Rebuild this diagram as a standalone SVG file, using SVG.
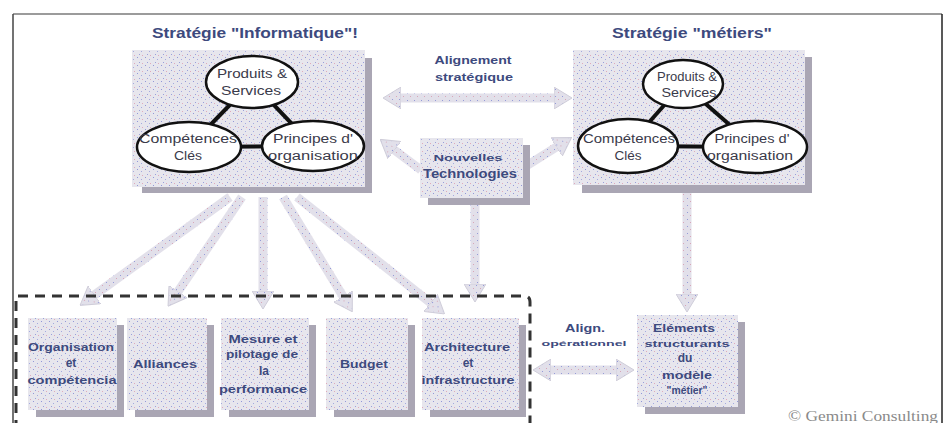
<svg xmlns="http://www.w3.org/2000/svg" width="947" height="423" viewBox="0 0 947 423">
<style>
.t{font-family:"Liberation Sans",Arial,sans-serif;font-weight:bold;fill:#3d4a7e;text-anchor:middle}
.e{font-family:"Liberation Sans",Arial,sans-serif;fill:#3a3a4a;text-anchor:middle;font-size:12px}
.box{fill:url(#dots)}
.sh{fill:#aaa6b4}
.ov{fill:#fff;stroke:#111;stroke-width:2.5}
.lk{stroke:#111;stroke-width:4}
.ar{stroke:url(#adots);stroke-width:9;fill:none;marker-end:url(#ah)}
.dar{stroke:url(#adots);stroke-width:9;fill:none;marker-end:url(#ah);marker-start:url(#ah)}
</style>
<defs>
<pattern id="dots" width="8" height="8" patternUnits="userSpaceOnUse">
<rect width="8" height="8" fill="#e7e6ed"/>
<rect x="1" y="1" width="1" height="1" fill="#9298d8"/>
<rect x="5" y="3" width="1" height="1" fill="#a4aadf"/>
<rect x="3" y="6" width="1" height="1" fill="#9aa0da"/>
<rect x="6" y="7" width="1" height="1" fill="#e0aabb"/>
</pattern>
<pattern id="adots" width="7" height="7" patternUnits="userSpaceOnUse">
<rect width="7" height="7" fill="#e2e0ea"/>
<rect x="1" y="2" width="1" height="1" fill="#959bd8"/>
<rect x="4" y="5" width="1" height="1" fill="#d8a6b8"/>
</pattern>
<marker id="ah" viewBox="0 0 18 22" refX="2" refY="11" markerWidth="18" markerHeight="22" markerUnits="userSpaceOnUse" orient="auto-start-reverse">
<path d="M0,0 L18,11 L0,22 z" fill="url(#adots)" stroke="#cfcdd9" stroke-width="1"/>
</marker>
</defs>
<rect width="947" height="423" fill="#fff"/>
<g id="frame">
<line x1="13" y1="14" x2="942" y2="14" stroke="#7a7a7a" stroke-width="1.5"/>
<line x1="13" y1="14" x2="13" y2="423" stroke="#444" stroke-width="1.5"/>
<line x1="942" y1="14" x2="942" y2="423" stroke="#222" stroke-width="1.5"/>
</g>
<g id="connectors">
<line class="dar" x1="399" y1="98" x2="556" y2="98"/>
<line class="ar" x1="421" y1="170" x2="393" y2="149"/>
<line class="ar" x1="523" y1="168" x2="558" y2="146"/>
<line class="ar" x1="475" y1="205" x2="475" y2="286"/>
<line class="ar" x1="687" y1="192" x2="687" y2="296"/>
<line class="dar" x1="549" y1="370" x2="618" y2="370"/>
<line class="ar" x1="230" y1="197" x2="93" y2="296"/>
<line class="ar" x1="242" y1="197" x2="177" y2="293"/>
<line class="ar" x1="263" y1="197" x2="263" y2="293"/>
<line class="ar" x1="283" y1="197" x2="344" y2="298"/>
<line class="ar" x1="297" y1="197" x2="432" y2="304"/>
</g>
<g id="dashed-group">
<path d="M16,430 L16,296 L524,296 Q530,296 530,302 L530,430" fill="none" stroke="#333" stroke-width="3" stroke-dasharray="10 7"/>
</g>
<g id="strat-info">
<text class="t" x="255" y="38" font-size="14" textLength="206" lengthAdjust="spacingAndGlyphs">Stratégie "Informatique"!</text>
<rect class="sh" x="365" y="58" width="7" height="135"/>
<rect class="sh" x="142" y="187" width="230" height="6"/>
<rect class="box" x="132" y="50" width="233" height="137"/>
<line class="lk" x1="252" y1="82" x2="189" y2="147"/>
<line class="lk" x1="252" y1="82" x2="313" y2="146"/>
<line class="lk" x1="189" y1="147" x2="313" y2="146"/>
<ellipse class="ov" cx="252" cy="82" rx="46" ry="26"/>
<ellipse class="ov" cx="189" cy="147" rx="52" ry="25"/>
<ellipse class="ov" cx="313" cy="146" rx="51" ry="25"/>
<text class="e" x="252" y="78" textLength="70" lengthAdjust="spacingAndGlyphs">Produits &amp;</text>
<text class="e" x="251" y="95" textLength="60" lengthAdjust="spacingAndGlyphs">Services</text>
<text class="e" x="188" y="143" textLength="98" lengthAdjust="spacingAndGlyphs">Compétences</text>
<text class="e" x="188" y="160" textLength="28" lengthAdjust="spacingAndGlyphs">Clés</text>
<text class="e" x="313" y="143" textLength="80" lengthAdjust="spacingAndGlyphs">Principes d'</text>
<text class="e" x="313" y="160" textLength="90" lengthAdjust="spacingAndGlyphs">organisation</text>
</g>
<g id="strat-metiers">
<text class="t" x="692" y="38" font-size="14" textLength="160" lengthAdjust="spacingAndGlyphs">Stratégie "métiers"</text>
<rect class="sh" x="805" y="57" width="7" height="136"/>
<rect class="sh" x="582" y="185" width="230" height="8"/>
<rect class="box" x="573" y="50" width="232" height="135"/>
<line class="lk" x1="683" y1="84" x2="628" y2="146"/>
<line class="lk" x1="683" y1="84" x2="755" y2="147"/>
<line class="lk" x1="628" y1="146" x2="755" y2="147"/>
<ellipse class="ov" cx="683" cy="84" rx="40" ry="24"/>
<ellipse class="ov" cx="628" cy="146" rx="50" ry="27"/>
<ellipse class="ov" cx="755" cy="147" rx="52" ry="26"/>
<text class="e" x="687" y="81" textLength="60" lengthAdjust="spacingAndGlyphs">Produits &amp;</text>
<text class="e" x="689" y="97" textLength="55" lengthAdjust="spacingAndGlyphs">Services</text>
<text class="e" x="629" y="143" textLength="92" lengthAdjust="spacingAndGlyphs">Compétences</text>
<text class="e" x="628" y="160" textLength="27" lengthAdjust="spacingAndGlyphs">Clés</text>
<text class="e" x="752" y="143" textLength="75" lengthAdjust="spacingAndGlyphs">Principes d'</text>
<text class="e" x="750" y="160" textLength="86" lengthAdjust="spacingAndGlyphs">organisation</text>
</g>
<g id="align-strat">
<text class="t" x="473" y="64" font-size="11" textLength="77" lengthAdjust="spacingAndGlyphs">Alignement</text>
<text class="t" x="474" y="81" font-size="11" textLength="78" lengthAdjust="spacingAndGlyphs">stratégique</text>
</g>
<g id="nouvelles-tech">
<rect class="sh" x="523" y="145" width="7" height="60"/>
<rect class="sh" x="428" y="198" width="102" height="7"/>
<rect class="box" x="420" y="138" width="103" height="60"/>
<text class="t" x="468" y="161" font-size="9" textLength="69" lengthAdjust="spacingAndGlyphs">Nouvelles</text>
<text class="t" x="470" y="178" font-size="13" textLength="94" lengthAdjust="spacingAndGlyphs">Technologies</text>
</g>
<g id="organisation">
<rect class="sh" x="117" y="325" width="7" height="92"/>
<rect class="sh" x="36" y="410" width="88" height="7"/>
<rect class="box" x="28" y="318" width="89" height="92"/>
<text class="t" x="71" y="351" font-size="11" textLength="86" lengthAdjust="spacingAndGlyphs">Organisation</text>
<text class="t" x="71" y="367" font-size="12">et</text>
<text class="t" x="72" y="384" font-size="11" textLength="89" lengthAdjust="spacingAndGlyphs">compétencia</text>
</g>
<g id="alliances">
<rect class="sh" x="207" y="325" width="7" height="92"/>
<rect class="sh" x="135" y="410" width="79" height="7"/>
<rect class="box" x="127" y="318" width="80" height="92"/>
<text class="t" x="165" y="368" font-size="11" textLength="64" lengthAdjust="spacingAndGlyphs">Alliances</text>
</g>
<g id="mesure">
<rect class="sh" x="309" y="325" width="7" height="92"/>
<rect class="sh" x="229" y="410" width="87" height="7"/>
<rect class="box" x="221" y="318" width="88" height="92"/>
<text class="t" x="263" y="343" font-size="11" textLength="69" lengthAdjust="spacingAndGlyphs">Mesure et</text>
<text class="t" x="262" y="358" font-size="11" textLength="72" lengthAdjust="spacingAndGlyphs">pilotage de</text>
<text class="t" x="264" y="375" font-size="12">la</text>
<text class="t" x="263" y="393" font-size="11" textLength="88" lengthAdjust="spacingAndGlyphs">performance</text>
</g>
<g id="budget">
<rect class="sh" x="408" y="325" width="7" height="92"/>
<rect class="sh" x="334" y="410" width="81" height="7"/>
<rect class="box" x="326" y="318" width="82" height="92"/>
<text class="t" x="364" y="368" font-size="11" textLength="48" lengthAdjust="spacingAndGlyphs">Budget</text>
</g>
<g id="architecture">
<rect class="sh" x="519" y="325" width="7" height="92"/>
<rect class="sh" x="430" y="410" width="96" height="7"/>
<rect class="box" x="422" y="318" width="97" height="92"/>
<text class="t" x="467" y="351" font-size="11" textLength="86" lengthAdjust="spacingAndGlyphs">Architecture</text>
<text class="t" x="468" y="367" font-size="12">et</text>
<text class="t" x="468" y="384" font-size="11" textLength="93" lengthAdjust="spacingAndGlyphs">infrastructure</text>
</g>
<g id="align-op">
<text class="t" x="585" y="332" font-size="11" textLength="40" lengthAdjust="spacingAndGlyphs">Align.</text>
<text class="t" x="584" y="346" font-size="8" textLength="85" lengthAdjust="spacingAndGlyphs">opérationnel</text>
</g>
<g id="elements">
<rect class="sh" x="738" y="322" width="7" height="92"/>
<rect class="sh" x="645" y="407" width="100" height="7"/>
<rect class="box" x="637" y="315" width="101" height="92"/>
<text class="t" x="684" y="332" font-size="11" textLength="62" lengthAdjust="spacingAndGlyphs">Eléments</text>
<text class="t" x="687" y="347" font-size="9" textLength="85" lengthAdjust="spacingAndGlyphs">structurants</text>
<text class="t" x="685" y="362" font-size="12">du</text>
<text class="t" x="687" y="379" font-size="11" textLength="50" lengthAdjust="spacingAndGlyphs">modèle</text>
<text class="t" x="687" y="394" font-size="11" textLength="41" lengthAdjust="spacingAndGlyphs">"métier"</text>
</g>
<g id="copyright">
<text x="788" y="421" font-family="'Liberation Serif','Times New Roman',serif" font-size="15" fill="#8a8a8a" textLength="150" lengthAdjust="spacingAndGlyphs">© Gemini Consulting</text>
</g>
</svg>
